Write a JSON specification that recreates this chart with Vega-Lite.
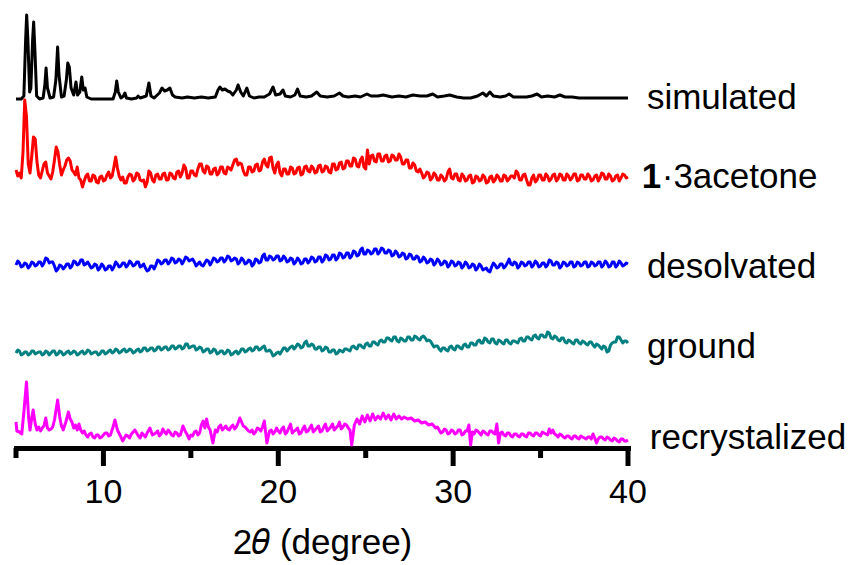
{
"$schema": "https://vega.github.io/schema/vega-lite/v6.json",
"width": 612,
"height": 438,
"autosize": {"type": "none"},
"padding": {"left": 16, "top": 10, "right": 221, "bottom": 117},
"background": "white",
"config": {"view": {"stroke": null}, "font": "Liberation Sans"},
"datasets": {
"sim": [{"x":5.0,"y":353},{"x":5.3,"y":353},{"x":5.45,"y":356},{"x":5.55,"y":412},{"x":5.61,"y":437},{"x":5.68,"y":412},{"x":5.78,"y":360},{"x":5.85,"y":364},{"x":5.95,"y":412},{"x":6.01,"y":430},{"x":6.08,"y":402},{"x":6.18,"y":356},{"x":6.35,"y":353},{"x":6.55,"y":354},{"x":6.65,"y":367},{"x":6.72,"y":384},{"x":6.8,"y":364},{"x":6.95,"y":354},{"x":7.15,"y":355},{"x":7.28,"y":372},{"x":7.38,"y":405},{"x":7.46,"y":377},{"x":7.6,"y":355},{"x":7.75,"y":356},{"x":7.88,"y":372},{"x":7.96,"y":389},{"x":8.05,"y":385},{"x":8.15,"y":364},{"x":8.3,"y":357},{"x":8.43,"y":370},{"x":8.52,"y":357},{"x":8.65,"y":360},{"x":8.76,"y":375},{"x":8.85,"y":362},{"x":8.95,"y":364},{"x":9.05,"y":355},{"x":9.3,"y":353},{"x":10.0,"y":353},{"x":10.55,"y":353},{"x":10.68,"y":360},{"x":10.76,"y":371},{"x":10.85,"y":360},{"x":11.0,"y":354},{"x":11.15,"y":356},{"x":11.23,"y":359},{"x":11.32,"y":354},{"x":11.6,"y":353},{"x":11.9,"y":354},{"x":11.98,"y":356},{"x":12.1,"y":354},{"x":12.45,"y":356},{"x":12.6,"y":369},{"x":12.72,"y":356},{"x":12.9,"y":354},{"x":13.2,"y":359},{"x":13.35,"y":364},{"x":13.5,"y":361},{"x":13.65,"y":362},{"x":13.8,"y":364},{"x":13.95,"y":357},{"x":14.1,"y":355},{"x":14.5,"y":354},{"x":14.8,"y":355},{"x":15.2,"y":354},{"x":15.6,"y":355},{"x":16.0,"y":354},{"x":16.4,"y":355},{"x":16.55,"y":362},{"x":16.66,"y":365},{"x":16.8,"y":362},{"x":16.95,"y":363},{"x":17.1,"y":361},{"x":17.25,"y":360},{"x":17.4,"y":357},{"x":17.6,"y":362},{"x":17.7,"y":367},{"x":17.85,"y":360},{"x":18.0,"y":356},{"x":18.2,"y":364},{"x":18.35,"y":356},{"x":18.6,"y":354},{"x":18.9,"y":355},{"x":19.2,"y":355},{"x":19.5,"y":358},{"x":19.7,"y":365},{"x":19.85,"y":357},{"x":20.1,"y":358},{"x":20.27,"y":362},{"x":20.4,"y":356},{"x":20.7,"y":355},{"x":20.95,"y":357},{"x":21.1,"y":363},{"x":21.25,"y":356},{"x":21.6,"y":355},{"x":21.9,"y":356},{"x":22.2,"y":360},{"x":22.4,"y":356},{"x":22.8,"y":355},{"x":23.2,"y":356},{"x":23.5,"y":359},{"x":23.7,"y":356},{"x":24.0,"y":355},{"x":24.4,"y":356},{"x":24.7,"y":355},{"x":25.07,"y":358},{"x":25.3,"y":356},{"x":25.7,"y":356},{"x":26.0,"y":357},{"x":26.5,"y":355},{"x":26.9,"y":356},{"x":27.3,"y":355},{"x":27.7,"y":357},{"x":28.1,"y":356},{"x":28.5,"y":356},{"x":28.84,"y":358},{"x":29.1,"y":355},{"x":29.5,"y":356},{"x":29.8,"y":357},{"x":30.2,"y":355},{"x":30.6,"y":354},{"x":31.0,"y":354},{"x":31.4,"y":356},{"x":31.7,"y":359},{"x":31.9,"y":356},{"x":32.1,"y":360},{"x":32.3,"y":356},{"x":32.7,"y":355},{"x":33.0,"y":356},{"x":33.2,"y":358},{"x":33.45,"y":355},{"x":33.8,"y":355},{"x":34.2,"y":355},{"x":34.5,"y":356},{"x":34.8,"y":358},{"x":35.05,"y":355},{"x":35.4,"y":356},{"x":35.8,"y":355},{"x":36.1,"y":357},{"x":36.4,"y":355},{"x":36.8,"y":355},{"x":37.2,"y":354},{"x":37.7,"y":354},{"x":38.2,"y":354},{"x":38.8,"y":354},{"x":39.4,"y":354},{"x":40.0,"y":354}],
"red": [{"x":5.0,"y":282},{"x":5.1,"y":276},{"x":5.2,"y":279},{"x":5.3,"y":274},{"x":5.4,"y":300},{"x":5.5,"y":352},{"x":5.6,"y":335},{"x":5.7,"y":288},{"x":5.8,"y":279},{"x":5.9,"y":296},{"x":6.0,"y":315},{"x":6.1,"y":313},{"x":6.2,"y":290},{"x":6.3,"y":277},{"x":6.4,"y":274},{"x":6.5,"y":281},{"x":6.6,"y":288},{"x":6.7,"y":290},{"x":6.8,"y":279},{"x":6.9,"y":276},{"x":7.0,"y":273},{"x":7.1,"y":280},{"x":7.2,"y":292},{"x":7.3,"y":305},{"x":7.4,"y":300},{"x":7.5,"y":287},{"x":7.6,"y":277},{"x":7.7,"y":282},{"x":7.8,"y":286},{"x":7.9,"y":292},{"x":8.0,"y":294},{"x":8.1,"y":291},{"x":8.2,"y":282},{"x":8.3,"y":280},{"x":8.4,"y":277},{"x":8.5,"y":285},{"x":8.6,"y":274},{"x":8.7,"y":272},{"x":8.8,"y":265},{"x":8.9,"y":271},{"x":9.0,"y":276},{"x":9.2,"y":271},{"x":9.4,"y":277},{"x":9.6,"y":270},{"x":9.8,"y":275},{"x":10.0,"y":271},{"x":10.2,"y":277},{"x":10.4,"y":274},{"x":10.6,"y":285},{"x":10.7,"y":295},{"x":10.8,"y":284},{"x":11.0,"y":272},{"x":11.2,"y":269},{"x":11.4,"y":275},{"x":11.6,"y":277},{"x":11.8,"y":273},{"x":12.0,"y":278},{"x":12.2,"y":271},{"x":12.4,"y":265},{"x":12.6,"y":281},{"x":12.8,"y":272},{"x":13.0,"y":277},{"x":13.2,"y":273},{"x":13.4,"y":278},{"x":13.6,"y":272},{"x":13.8,"y":279},{"x":14.0,"y":274},{"x":14.2,"y":280},{"x":14.4,"y":275},{"x":14.6,"y":287},{"x":14.8,"y":274},{"x":15.0,"y":281},{"x":15.2,"y":277},{"x":15.4,"y":283},{"x":15.6,"y":288},{"x":15.8,"y":279},{"x":16.0,"y":285},{"x":16.2,"y":278},{"x":16.4,"y":284},{"x":16.6,"y":279},{"x":16.8,"y":285},{"x":17.0,"y":278},{"x":17.2,"y":284},{"x":17.4,"y":287},{"x":17.6,"y":293},{"x":17.8,"y":289},{"x":18.0,"y":281},{"x":18.2,"y":277},{"x":18.4,"y":285},{"x":18.6,"y":281},{"x":18.8,"y":288},{"x":19.0,"y":282},{"x":19.2,"y":293},{"x":19.4,"y":285},{"x":19.6,"y":295},{"x":19.8,"y":279},{"x":20.0,"y":290},{"x":20.2,"y":276},{"x":20.4,"y":283},{"x":20.6,"y":278},{"x":20.8,"y":284},{"x":21.0,"y":279},{"x":21.2,"y":285},{"x":21.4,"y":278},{"x":21.6,"y":286},{"x":21.8,"y":280},{"x":22.0,"y":284},{"x":22.2,"y":280},{"x":22.4,"y":287},{"x":22.6,"y":281},{"x":22.8,"y":285},{"x":23.0,"y":279},{"x":23.2,"y":288},{"x":23.4,"y":283},{"x":23.6,"y":290},{"x":23.8,"y":284},{"x":24.0,"y":291},{"x":24.2,"y":286},{"x":24.4,"y":293},{"x":24.6,"y":285},{"x":24.8,"y":295},{"x":25.0,"y":283},{"x":25.1,"y":302},{"x":25.2,"y":288},{"x":25.4,"y":297},{"x":25.6,"y":290},{"x":25.8,"y":298},{"x":26.0,"y":291},{"x":26.2,"y":297},{"x":26.4,"y":291},{"x":26.6,"y":296},{"x":26.8,"y":292},{"x":27.0,"y":295},{"x":27.2,"y":288},{"x":27.4,"y":292},{"x":27.6,"y":284},{"x":27.8,"y":287},{"x":28.0,"y":280},{"x":28.2,"y":279},{"x":28.4,"y":276},{"x":28.6,"y":279},{"x":28.8,"y":274},{"x":29.0,"y":277},{"x":29.2,"y":272},{"x":29.4,"y":275},{"x":29.6,"y":273},{"x":29.8,"y":283},{"x":30.0,"y":273},{"x":30.2,"y":278},{"x":30.4,"y":271},{"x":30.6,"y":276},{"x":30.8,"y":272},{"x":31.0,"y":277},{"x":31.2,"y":270},{"x":31.4,"y":275},{"x":31.6,"y":272},{"x":31.8,"y":275},{"x":32.0,"y":270},{"x":32.2,"y":276},{"x":32.4,"y":272},{"x":32.6,"y":275},{"x":32.8,"y":271},{"x":33.0,"y":276},{"x":33.2,"y":273},{"x":33.4,"y":276},{"x":33.6,"y":281},{"x":33.8,"y":272},{"x":34.0,"y":277},{"x":34.2,"y":272},{"x":34.4,"y":267},{"x":34.6,"y":277},{"x":34.8,"y":272},{"x":35.0,"y":277},{"x":35.2,"y":272},{"x":35.4,"y":276},{"x":35.6,"y":273},{"x":35.8,"y":278},{"x":36.0,"y":273},{"x":36.2,"y":277},{"x":36.4,"y":272},{"x":36.6,"y":276},{"x":36.8,"y":274},{"x":37.0,"y":278},{"x":37.2,"y":272},{"x":37.4,"y":277},{"x":37.6,"y":273},{"x":37.8,"y":276},{"x":38.0,"y":272},{"x":38.2,"y":277},{"x":38.4,"y":274},{"x":38.6,"y":278},{"x":38.8,"y":273},{"x":39.0,"y":276},{"x":39.2,"y":272},{"x":39.4,"y":277},{"x":39.6,"y":274},{"x":39.8,"y":277},{"x":40.0,"y":275},
{"x":9.1,"y":278},{"x":9.3,"y":271},{"x":9.5,"y":276},{"x":9.7,"y":269},{"x":9.9,"y":276},{"x":10.1,"y":272},{"x":10.3,"y":280},{"x":10.5,"y":276},{"x":10.9,"y":276},{"x":11.1,"y":275},{"x":11.3,"y":269},{"x":11.5,"y":278},{"x":11.7,"y":271},{"x":11.9,"y":279},{"x":12.1,"y":272},{"x":12.3,"y":272},{"x":12.5,"y":270},{"x":12.7,"y":279},{"x":12.9,"y":270},{"x":13.1,"y":278},{"x":13.3,"y":273},{"x":13.5,"y":279},{"x":13.7,"y":272},{"x":13.9,"y":278},{"x":14.1,"y":273},{"x":14.3,"y":281},{"x":14.5,"y":279},{"x":14.7,"y":284},{"x":14.9,"y":274},{"x":15.1,"y":281},{"x":15.3,"y":276},{"x":15.5,"y":288},{"x":15.7,"y":281},{"x":15.9,"y":286},{"x":16.1,"y":278},{"x":16.3,"y":283},{"x":16.5,"y":277},{"x":16.7,"y":285},{"x":16.9,"y":279},{"x":17.1,"y":285},{"x":17.3,"y":282},{"x":17.5,"y":292},{"x":17.7,"y":287},{"x":17.9,"y":288},{"x":18.1,"y":277},{"x":18.3,"y":285},{"x":18.5,"y":280},{"x":18.7,"y":287},{"x":18.9,"y":281},{"x":19.1,"y":290},{"x":19.3,"y":287},{"x":19.5,"y":294},{"x":19.7,"y":284},{"x":19.9,"y":287},{"x":20.1,"y":279},{"x":20.3,"y":283},{"x":20.5,"y":278},{"x":20.7,"y":285},{"x":20.9,"y":278},{"x":21.1,"y":284},{"x":21.3,"y":277},{"x":21.5,"y":285},{"x":21.7,"y":281},{"x":21.9,"y":286},{"x":22.1,"y":279},{"x":22.3,"y":286},{"x":22.5,"y":280},{"x":22.7,"y":286},{"x":22.9,"y":280},{"x":23.1,"y":288},{"x":23.3,"y":282},{"x":23.5,"y":289},{"x":23.7,"y":283},{"x":23.9,"y":291},{"x":24.1,"y":286},{"x":24.3,"y":294},{"x":24.5,"y":286},{"x":24.7,"y":292},{"x":24.9,"y":285},{"x":25.3,"y":296},{"x":25.5,"y":291},{"x":25.7,"y":298},{"x":25.9,"y":291},{"x":26.1,"y":296},{"x":26.3,"y":290},{"x":26.5,"y":297},{"x":26.7,"y":292},{"x":26.9,"y":298},{"x":27.1,"y":288},{"x":27.3,"y":292},{"x":27.5,"y":284},{"x":27.7,"y":289},{"x":27.9,"y":281},{"x":28.1,"y":283},{"x":28.3,"y":274},{"x":28.5,"y":280},{"x":28.7,"y":272},{"x":28.9,"y":279},{"x":29.1,"y":272},{"x":29.3,"y":277},{"x":29.5,"y":271},{"x":29.7,"y":280},{"x":29.9,"y":274},{"x":30.1,"y":278},{"x":30.3,"y":272},{"x":30.5,"y":278},{"x":30.7,"y":271},{"x":30.9,"y":276},{"x":31.1,"y":269},{"x":31.3,"y":276},{"x":31.5,"y":271},{"x":31.7,"y":277},{"x":31.9,"y":269},{"x":32.1,"y":275},{"x":32.3,"y":270},{"x":32.5,"y":277},{"x":32.7,"y":271},{"x":32.9,"y":277},{"x":33.1,"y":271},{"x":33.3,"y":276},{"x":33.5,"y":274},{"x":33.7,"y":279},{"x":33.9,"y":272},{"x":34.1,"y":278},{"x":34.3,"y":267},{"x":34.5,"y":274},{"x":34.7,"y":270},{"x":34.9,"y":277},{"x":35.1,"y":272},{"x":35.3,"y":278},{"x":35.5,"y":271},{"x":35.7,"y":277},{"x":35.9,"y":271},{"x":36.1,"y":278},{"x":36.3,"y":272},{"x":36.5,"y":278},{"x":36.7,"y":272},{"x":36.9,"y":278},{"x":37.1,"y":271},{"x":37.3,"y":277},{"x":37.5,"y":273},{"x":37.7,"y":278},{"x":37.9,"y":271},{"x":38.1,"y":276},{"x":38.3,"y":271},{"x":38.5,"y":279},{"x":38.7,"y":273},{"x":38.9,"y":278},{"x":39.1,"y":271},{"x":39.3,"y":276},{"x":39.5,"y":271},{"x":39.7,"y":278},{"x":39.9,"y":274}],
"blue": [{"x":5.0,"y":187},{"x":5.2,"y":189},{"x":5.4,"y":186},{"x":5.6,"y":188},{"x":5.8,"y":186},{"x":6.0,"y":189},{"x":6.2,"y":187},{"x":6.4,"y":190},{"x":6.6,"y":189},{"x":6.8,"y":193},{"x":7.0,"y":190},{"x":7.2,"y":186},{"x":7.4,"y":183},{"x":7.6,"y":186},{"x":7.8,"y":185},{"x":8.0,"y":188},{"x":8.2,"y":186},{"x":8.4,"y":190},{"x":8.6,"y":188},{"x":8.8,"y":192},{"x":9.0,"y":188},{"x":9.2,"y":187},{"x":9.4,"y":185},{"x":9.6,"y":187},{"x":9.8,"y":184},{"x":10.0,"y":186},{"x":10.2,"y":183},{"x":10.4,"y":186},{"x":10.6,"y":185},{"x":10.8,"y":188},{"x":11.0,"y":186},{"x":11.2,"y":189},{"x":11.4,"y":187},{"x":11.6,"y":189},{"x":11.8,"y":187},{"x":12.0,"y":190},{"x":12.2,"y":186},{"x":12.4,"y":184},{"x":12.6,"y":182},{"x":12.8,"y":186},{"x":13.0,"y":187},{"x":13.2,"y":191},{"x":13.4,"y":189},{"x":13.6,"y":192},{"x":13.8,"y":190},{"x":14.0,"y":193},{"x":14.2,"y":190},{"x":14.4,"y":192},{"x":14.6,"y":191},{"x":14.8,"y":194},{"x":15.0,"y":192},{"x":15.2,"y":190},{"x":15.4,"y":188},{"x":15.6,"y":187},{"x":15.8,"y":189},{"x":16.0,"y":191},{"x":16.2,"y":190},{"x":16.4,"y":193},{"x":16.6,"y":191},{"x":16.8,"y":194},{"x":17.0,"y":192},{"x":17.2,"y":195},{"x":17.4,"y":192},{"x":17.6,"y":193},{"x":17.8,"y":190},{"x":18.0,"y":192},{"x":18.2,"y":189},{"x":18.4,"y":191},{"x":18.6,"y":188},{"x":18.8,"y":192},{"x":19.0,"y":190},{"x":19.2,"y":198},{"x":19.4,"y":192},{"x":19.6,"y":195},{"x":19.8,"y":193},{"x":20.0,"y":196},{"x":20.2,"y":192},{"x":20.4,"y":194},{"x":20.6,"y":191},{"x":20.8,"y":193},{"x":21.0,"y":190},{"x":21.2,"y":192},{"x":21.4,"y":189},{"x":21.6,"y":193},{"x":21.8,"y":191},{"x":22.0,"y":194},{"x":22.2,"y":191},{"x":22.4,"y":195},{"x":22.6,"y":192},{"x":22.8,"y":196},{"x":23.0,"y":193},{"x":23.2,"y":197},{"x":23.4,"y":194},{"x":23.6,"y":198},{"x":23.8,"y":195},{"x":24.0,"y":199},{"x":24.2,"y":196},{"x":24.4,"y":200},{"x":24.6,"y":197},{"x":24.8,"y":204},{"x":25.0,"y":198},{"x":25.2,"y":201},{"x":25.4,"y":199},{"x":25.6,"y":203},{"x":25.8,"y":200},{"x":26.0,"y":203},{"x":26.2,"y":199},{"x":26.4,"y":201},{"x":26.6,"y":197},{"x":26.8,"y":199},{"x":27.0,"y":196},{"x":27.2,"y":198},{"x":27.4,"y":194},{"x":27.6,"y":197},{"x":27.8,"y":193},{"x":28.0,"y":195},{"x":28.2,"y":191},{"x":28.4,"y":193},{"x":28.6,"y":190},{"x":28.8,"y":192},{"x":29.0,"y":189},{"x":29.2,"y":191},{"x":29.4,"y":188},{"x":29.6,"y":190},{"x":29.8,"y":187},{"x":30.0,"y":190},{"x":30.2,"y":187},{"x":30.4,"y":189},{"x":30.6,"y":186},{"x":30.8,"y":188},{"x":31.0,"y":185},{"x":31.2,"y":187},{"x":31.4,"y":184},{"x":31.6,"y":186},{"x":31.8,"y":183},{"x":32.0,"y":181},{"x":32.2,"y":185},{"x":32.4,"y":187},{"x":32.6,"y":185},{"x":32.8,"y":188},{"x":33.0,"y":186},{"x":33.2,"y":193},{"x":33.4,"y":187},{"x":33.6,"y":189},{"x":33.8,"y":186},{"x":34.0,"y":189},{"x":34.2,"y":187},{"x":34.4,"y":190},{"x":34.6,"y":187},{"x":34.8,"y":189},{"x":35.0,"y":186},{"x":35.2,"y":189},{"x":35.4,"y":187},{"x":35.6,"y":191},{"x":35.8,"y":187},{"x":36.0,"y":189},{"x":36.2,"y":186},{"x":36.4,"y":189},{"x":36.6,"y":187},{"x":36.8,"y":190},{"x":37.0,"y":186},{"x":37.2,"y":189},{"x":37.4,"y":187},{"x":37.6,"y":190},{"x":37.8,"y":186},{"x":38.0,"y":189},{"x":38.2,"y":187},{"x":38.4,"y":190},{"x":38.6,"y":187},{"x":38.8,"y":189},{"x":39.0,"y":186},{"x":39.2,"y":190},{"x":39.4,"y":187},{"x":39.6,"y":189},{"x":39.8,"y":187},{"x":40.0,"y":188},
{"x":5.1,"y":191},{"x":5.3,"y":185},{"x":5.5,"y":189},{"x":5.7,"y":184},{"x":5.9,"y":190},{"x":6.1,"y":186},{"x":6.3,"y":190},{"x":6.5,"y":186},{"x":6.7,"y":194},{"x":6.9,"y":189},{"x":7.1,"y":190},{"x":7.3,"y":181},{"x":7.5,"y":187},{"x":7.7,"y":183},{"x":7.9,"y":188},{"x":8.1,"y":184},{"x":8.3,"y":191},{"x":8.5,"y":187},{"x":8.7,"y":192},{"x":8.9,"y":187},{"x":9.1,"y":190},{"x":9.3,"y":184},{"x":9.5,"y":188},{"x":9.7,"y":182},{"x":9.9,"y":188},{"x":10.1,"y":182},{"x":10.3,"y":186},{"x":10.5,"y":182},{"x":10.7,"y":190},{"x":10.9,"y":185},{"x":11.1,"y":189},{"x":11.3,"y":185},{"x":11.5,"y":191},{"x":11.7,"y":186},{"x":11.9,"y":190},{"x":12.1,"y":185},{"x":12.3,"y":188},{"x":12.5,"y":181},{"x":12.7,"y":186},{"x":12.9,"y":183},{"x":13.1,"y":192},{"x":13.3,"y":188},{"x":13.5,"y":192},{"x":13.7,"y":188},{"x":13.9,"y":194},{"x":14.1,"y":189},{"x":14.3,"y":193},{"x":14.5,"y":188},{"x":14.7,"y":195},{"x":14.9,"y":191},{"x":15.1,"y":193},{"x":15.3,"y":186},{"x":15.5,"y":190},{"x":15.7,"y":186},{"x":15.9,"y":192},{"x":16.1,"y":187},{"x":16.3,"y":194},{"x":16.5,"y":190},{"x":16.7,"y":194},{"x":16.9,"y":190},{"x":17.1,"y":196},{"x":17.3,"y":191},{"x":17.5,"y":194},{"x":17.7,"y":188},{"x":17.9,"y":194},{"x":18.1,"y":188},{"x":18.3,"y":192},{"x":18.5,"y":186},{"x":18.7,"y":193},{"x":18.9,"y":189},{"x":19.1,"y":196},{"x":19.3,"y":192},{"x":19.5,"y":196},{"x":19.7,"y":192},{"x":19.9,"y":196},{"x":20.1,"y":191},{"x":20.3,"y":196},{"x":20.5,"y":190},{"x":20.7,"y":194},{"x":20.9,"y":188},{"x":21.1,"y":194},{"x":21.3,"y":188},{"x":21.5,"y":193},{"x":21.7,"y":189},{"x":21.9,"y":195},{"x":22.1,"y":190},{"x":22.3,"y":195},{"x":22.5,"y":190},{"x":22.7,"y":197},{"x":22.9,"y":192},{"x":23.1,"y":197},{"x":23.3,"y":192},{"x":23.5,"y":199},{"x":23.7,"y":194},{"x":23.9,"y":199},{"x":24.1,"y":194},{"x":24.3,"y":201},{"x":24.5,"y":196},{"x":24.7,"y":202},{"x":24.9,"y":198},{"x":25.1,"y":202},{"x":25.3,"y":198},{"x":25.5,"y":203},{"x":25.7,"y":198},{"x":25.9,"y":204},{"x":26.1,"y":199},{"x":26.3,"y":202},{"x":26.5,"y":196},{"x":26.7,"y":201},{"x":26.9,"y":195},{"x":27.1,"y":199},{"x":27.3,"y":193},{"x":27.5,"y":198},{"x":27.7,"y":193},{"x":27.9,"y":196},{"x":28.1,"y":190},{"x":28.3,"y":195},{"x":28.5,"y":189},{"x":28.7,"y":193},{"x":28.9,"y":187},{"x":29.1,"y":193},{"x":29.3,"y":187},{"x":29.5,"y":191},{"x":29.7,"y":185},{"x":29.9,"y":191},{"x":30.1,"y":186},{"x":30.3,"y":190},{"x":30.5,"y":184},{"x":30.7,"y":190},{"x":30.9,"y":184},{"x":31.1,"y":188},{"x":31.3,"y":182},{"x":31.5,"y":188},{"x":31.7,"y":182},{"x":31.9,"y":184},{"x":32.1,"y":180},{"x":32.3,"y":189},{"x":32.5,"y":184},{"x":32.7,"y":188},{"x":32.9,"y":184},{"x":33.1,"y":189},{"x":33.3,"y":188},{"x":33.5,"y":190},{"x":33.7,"y":184},{"x":33.9,"y":190},{"x":34.1,"y":186},{"x":34.3,"y":190},{"x":34.5,"y":185},{"x":34.7,"y":191},{"x":34.9,"y":185},{"x":35.1,"y":189},{"x":35.3,"y":185},{"x":35.5,"y":192},{"x":35.7,"y":187},{"x":35.9,"y":190},{"x":36.1,"y":184},{"x":36.3,"y":190},{"x":36.5,"y":186},{"x":36.7,"y":190},{"x":36.9,"y":185},{"x":37.1,"y":190},{"x":37.3,"y":186},{"x":37.5,"y":190},{"x":37.7,"y":185},{"x":37.9,"y":190},{"x":38.1,"y":186},{"x":38.3,"y":190},{"x":38.5,"y":185},{"x":38.7,"y":191},{"x":38.9,"y":185},{"x":39.1,"y":190},{"x":39.3,"y":185},{"x":39.5,"y":191},{"x":39.7,"y":186},{"x":39.9,"y":189}],
"teal": [{"x":5.0,"y":99},{"x":5.2,"y":101},{"x":5.4,"y":98},{"x":5.6,"y":100},{"x":5.8,"y":98},{"x":6.0,"y":101},{"x":6.2,"y":99},{"x":6.4,"y":100},{"x":6.6,"y":98},{"x":6.8,"y":100},{"x":7.0,"y":99},{"x":7.2,"y":101},{"x":7.4,"y":98},{"x":7.6,"y":100},{"x":7.8,"y":98},{"x":8.0,"y":101},{"x":8.2,"y":99},{"x":8.4,"y":100},{"x":8.6,"y":98},{"x":8.8,"y":101},{"x":9.0,"y":99},{"x":9.2,"y":101},{"x":9.4,"y":99},{"x":9.6,"y":100},{"x":9.8,"y":98},{"x":10.0,"y":101},{"x":10.2,"y":99},{"x":10.4,"y":102},{"x":10.6,"y":100},{"x":10.8,"y":102},{"x":11.0,"y":100},{"x":11.2,"y":103},{"x":11.4,"y":101},{"x":11.6,"y":102},{"x":11.8,"y":100},{"x":12.0,"y":103},{"x":12.2,"y":101},{"x":12.4,"y":104},{"x":12.6,"y":102},{"x":12.8,"y":104},{"x":13.0,"y":102},{"x":13.2,"y":105},{"x":13.4,"y":103},{"x":13.6,"y":105},{"x":13.8,"y":103},{"x":14.0,"y":106},{"x":14.2,"y":104},{"x":14.4,"y":106},{"x":14.6,"y":104},{"x":14.8,"y":108},{"x":15.0,"y":105},{"x":15.2,"y":106},{"x":15.4,"y":103},{"x":15.6,"y":104},{"x":15.8,"y":101},{"x":16.0,"y":103},{"x":16.2,"y":100},{"x":16.4,"y":102},{"x":16.6,"y":99},{"x":16.8,"y":101},{"x":17.0,"y":99},{"x":17.2,"y":101},{"x":17.4,"y":98},{"x":17.6,"y":101},{"x":17.8,"y":100},{"x":18.0,"y":103},{"x":18.2,"y":101},{"x":18.4,"y":104},{"x":18.6,"y":102},{"x":18.8,"y":105},{"x":19.0,"y":103},{"x":19.2,"y":106},{"x":19.4,"y":101},{"x":19.6,"y":100},{"x":19.8,"y":97},{"x":20.0,"y":100},{"x":20.2,"y":101},{"x":20.4,"y":104},{"x":20.6,"y":103},{"x":20.8,"y":106},{"x":21.0,"y":105},{"x":21.2,"y":107},{"x":21.4,"y":105},{"x":21.6,"y":111},{"x":21.8,"y":106},{"x":22.0,"y":107},{"x":22.2,"y":103},{"x":22.4,"y":105},{"x":22.6,"y":102},{"x":22.8,"y":104},{"x":23.0,"y":100},{"x":23.2,"y":102},{"x":23.4,"y":99},{"x":23.6,"y":101},{"x":23.8,"y":103},{"x":24.0,"y":102},{"x":24.2,"y":105},{"x":24.4,"y":104},{"x":24.6,"y":107},{"x":24.8,"y":105},{"x":25.0,"y":108},{"x":25.2,"y":106},{"x":25.4,"y":110},{"x":25.6,"y":108},{"x":25.8,"y":111},{"x":26.0,"y":110},{"x":26.2,"y":114},{"x":26.4,"y":112},{"x":26.6,"y":115},{"x":26.8,"y":111},{"x":27.0,"y":114},{"x":27.2,"y":111},{"x":27.4,"y":115},{"x":27.6,"y":112},{"x":27.8,"y":116},{"x":28.0,"y":113},{"x":28.2,"y":115},{"x":28.4,"y":114},{"x":28.6,"y":112},{"x":28.8,"y":108},{"x":29.0,"y":106},{"x":29.2,"y":103},{"x":29.4,"y":104},{"x":29.6,"y":102},{"x":29.8,"y":105},{"x":30.0,"y":103},{"x":30.2,"y":106},{"x":30.4,"y":104},{"x":30.6,"y":107},{"x":30.8,"y":105},{"x":31.0,"y":109},{"x":31.2,"y":107},{"x":31.4,"y":111},{"x":31.6,"y":109},{"x":31.8,"y":114},{"x":32.0,"y":110},{"x":32.2,"y":113},{"x":32.4,"y":109},{"x":32.6,"y":112},{"x":32.8,"y":109},{"x":33.0,"y":112},{"x":33.2,"y":109},{"x":33.4,"y":111},{"x":33.6,"y":110},{"x":33.8,"y":113},{"x":34.0,"y":111},{"x":34.2,"y":115},{"x":34.4,"y":113},{"x":34.6,"y":116},{"x":34.8,"y":114},{"x":35.0,"y":117},{"x":35.2,"y":115},{"x":35.4,"y":120},{"x":35.6,"y":114},{"x":35.8,"y":116},{"x":36.0,"y":112},{"x":36.2,"y":114},{"x":36.4,"y":110},{"x":36.6,"y":112},{"x":36.8,"y":109},{"x":37.0,"y":112},{"x":37.2,"y":109},{"x":37.4,"y":111},{"x":37.6,"y":108},{"x":37.8,"y":110},{"x":38.0,"y":107},{"x":38.2,"y":108},{"x":38.4,"y":105},{"x":38.6,"y":106},{"x":38.8,"y":100},{"x":39.0,"y":107},{"x":39.2,"y":110},{"x":39.4,"y":115},{"x":39.6,"y":112},{"x":39.8,"y":111},{"x":40.0,"y":109},
{"x":5.1,"y":102},{"x":5.3,"y":97},{"x":5.5,"y":100},{"x":5.7,"y":97},{"x":5.9,"y":101},{"x":6.1,"y":98},{"x":6.3,"y":100},{"x":6.5,"y":97},{"x":6.7,"y":101},{"x":6.9,"y":97},{"x":7.1,"y":101},{"x":7.3,"y":97},{"x":7.5,"y":101},{"x":7.7,"y":97},{"x":7.9,"y":100},{"x":8.1,"y":98},{"x":8.3,"y":101},{"x":8.5,"y":97},{"x":8.7,"y":100},{"x":8.9,"y":98},{"x":9.1,"y":102},{"x":9.3,"y":98},{"x":9.5,"y":100},{"x":9.7,"y":97},{"x":9.9,"y":101},{"x":10.1,"y":98},{"x":10.3,"y":101},{"x":10.5,"y":99},{"x":10.7,"y":103},{"x":10.9,"y":99},{"x":11.1,"y":102},{"x":11.3,"y":100},{"x":11.5,"y":103},{"x":11.7,"y":99},{"x":11.9,"y":102},{"x":12.1,"y":100},{"x":12.3,"y":104},{"x":12.5,"y":101},{"x":12.7,"y":104},{"x":12.9,"y":101},{"x":13.1,"y":105},{"x":13.3,"y":102},{"x":13.5,"y":105},{"x":13.7,"y":102},{"x":13.9,"y":106},{"x":14.1,"y":103},{"x":14.3,"y":106},{"x":14.5,"y":103},{"x":14.7,"y":108},{"x":14.9,"y":104},{"x":15.1,"y":106},{"x":15.3,"y":102},{"x":15.5,"y":105},{"x":15.7,"y":100},{"x":15.9,"y":103},{"x":16.1,"y":99},{"x":16.3,"y":103},{"x":16.5,"y":98},{"x":16.7,"y":101},{"x":16.9,"y":98},{"x":17.1,"y":102},{"x":17.3,"y":97},{"x":17.5,"y":100},{"x":17.7,"y":98},{"x":17.9,"y":103},{"x":18.1,"y":100},{"x":18.3,"y":103},{"x":18.5,"y":101},{"x":18.7,"y":105},{"x":18.9,"y":102},{"x":19.1,"y":105},{"x":19.3,"y":101},{"x":19.5,"y":102},{"x":19.7,"y":96},{"x":19.9,"y":99},{"x":20.1,"y":98},{"x":20.3,"y":104},{"x":20.5,"y":101},{"x":20.7,"y":105},{"x":20.9,"y":103},{"x":21.1,"y":108},{"x":21.3,"y":104},{"x":21.5,"y":109},{"x":21.7,"y":106},{"x":21.9,"y":108},{"x":22.1,"y":103},{"x":22.3,"y":105},{"x":22.5,"y":101},{"x":22.7,"y":105},{"x":22.9,"y":100},{"x":23.1,"y":102},{"x":23.3,"y":98},{"x":23.5,"y":102},{"x":23.7,"y":100},{"x":23.9,"y":103},{"x":24.1,"y":101},{"x":24.3,"y":106},{"x":24.5,"y":103},{"x":24.7,"y":107},{"x":24.9,"y":104},{"x":25.1,"y":109},{"x":25.3,"y":106},{"x":25.5,"y":110},{"x":25.7,"y":107},{"x":25.9,"y":112},{"x":26.1,"y":110},{"x":26.3,"y":114},{"x":26.5,"y":111},{"x":26.7,"y":115},{"x":26.9,"y":110},{"x":27.1,"y":113},{"x":27.3,"y":111},{"x":27.5,"y":115},{"x":27.7,"y":112},{"x":27.9,"y":115},{"x":28.1,"y":112},{"x":28.3,"y":116},{"x":28.5,"y":111},{"x":28.7,"y":111},{"x":28.9,"y":105},{"x":29.1,"y":106},{"x":29.3,"y":101},{"x":29.5,"y":104},{"x":29.7,"y":101},{"x":29.9,"y":106},{"x":30.1,"y":102},{"x":30.3,"y":106},{"x":30.5,"y":103},{"x":30.7,"y":108},{"x":30.9,"y":105},{"x":31.1,"y":109},{"x":31.3,"y":107},{"x":31.5,"y":112},{"x":31.7,"y":109},{"x":31.9,"y":113},{"x":32.1,"y":109},{"x":32.3,"y":113},{"x":32.5,"y":108},{"x":32.7,"y":111},{"x":32.9,"y":108},{"x":33.1,"y":112},{"x":33.3,"y":108},{"x":33.5,"y":111},{"x":33.7,"y":109},{"x":33.9,"y":114},{"x":34.1,"y":111},{"x":34.3,"y":115},{"x":34.5,"y":112},{"x":34.7,"y":117},{"x":34.9,"y":113},{"x":35.1,"y":117},{"x":35.3,"y":115},{"x":35.5,"y":119},{"x":35.7,"y":113},{"x":35.9,"y":115},{"x":36.1,"y":111},{"x":36.3,"y":114},{"x":36.5,"y":109},{"x":36.7,"y":111},{"x":36.9,"y":108},{"x":37.1,"y":112},{"x":37.3,"y":108},{"x":37.5,"y":110},{"x":37.7,"y":107},{"x":37.9,"y":110},{"x":38.1,"y":105},{"x":38.3,"y":107},{"x":38.5,"y":103},{"x":38.7,"y":105},{"x":38.9,"y":101},{"x":39.1,"y":109},{"x":39.3,"y":110},{"x":39.5,"y":115},{"x":39.7,"y":109},{"x":39.9,"y":111}],
"mag": [{"x":5.0,"y":30},{"x":5.05,"y":21},{"x":5.2,"y":20},{"x":5.33,"y":18},{"x":5.45,"y":40},{"x":5.6,"y":70},{"x":5.72,"y":35},{"x":5.8,"y":22},{"x":5.9,"y":34},{"x":5.98,"y":42},{"x":6.1,"y":28},{"x":6.2,"y":22},{"x":6.3,"y":25},{"x":6.4,"y":21},{"x":6.5,"y":24},{"x":6.6,"y":26},{"x":6.7,"y":34},{"x":6.8,"y":24},{"x":6.9,"y":22},{"x":7.0,"y":23},{"x":7.1,"y":25},{"x":7.2,"y":32},{"x":7.38,"y":52},{"x":7.5,"y":35},{"x":7.6,"y":26},{"x":7.7,"y":22},{"x":7.85,"y":30},{"x":8.0,"y":40},{"x":8.1,"y":33},{"x":8.2,"y":30},{"x":8.3,"y":24},{"x":8.4,"y":27},{"x":8.5,"y":22},{"x":8.6,"y":28},{"x":8.7,"y":22},{"x":8.8,"y":19},{"x":8.9,"y":21},{"x":9.0,"y":17},{"x":9.2,"y":18},{"x":9.4,"y":15},{"x":9.6,"y":17},{"x":9.8,"y":14},{"x":10.0,"y":17},{"x":10.2,"y":19},{"x":10.4,"y":17},{"x":10.55,"y":25},{"x":10.66,"y":32},{"x":10.8,"y":22},{"x":11.0,"y":15},{"x":11.1,"y":11},{"x":11.2,"y":14},{"x":11.4,"y":16},{"x":11.6,"y":18},{"x":11.8,"y":22},{"x":12.0,"y":16},{"x":12.1,"y":14},{"x":12.3,"y":17},{"x":12.5,"y":19},{"x":12.66,"y":24},{"x":12.8,"y":17},{"x":13.0,"y":19},{"x":13.2,"y":16},{"x":13.4,"y":23},{"x":13.6,"y":18},{"x":13.8,"y":20},{"x":14.0,"y":16},{"x":14.2,"y":19},{"x":14.4,"y":17},{"x":14.55,"y":26},{"x":14.7,"y":20},{"x":14.9,"y":13},{"x":15.0,"y":17},{"x":15.2,"y":20},{"x":15.4,"y":17},{"x":15.6,"y":27},{"x":15.7,"y":31},{"x":15.8,"y":24},{"x":15.9,"y":33},{"x":16.0,"y":25},{"x":16.1,"y":22},{"x":16.26,"y":9},{"x":16.4,"y":22},{"x":16.6,"y":25},{"x":16.8,"y":22},{"x":17.0,"y":26},{"x":17.2,"y":22},{"x":17.4,"y":27},{"x":17.6,"y":25},{"x":17.8,"y":34},{"x":18.0,"y":26},{"x":18.2,"y":23},{"x":18.4,"y":20},{"x":18.6,"y":18},{"x":18.8,"y":24},{"x":19.0,"y":21},{"x":19.2,"y":31},{"x":19.35,"y":9},{"x":19.5,"y":21},{"x":19.7,"y":18},{"x":19.9,"y":24},{"x":20.1,"y":19},{"x":20.3,"y":25},{"x":20.5,"y":20},{"x":20.7,"y":28},{"x":20.9,"y":21},{"x":21.1,"y":24},{"x":21.3,"y":19},{"x":21.5,"y":26},{"x":21.7,"y":21},{"x":21.9,"y":27},{"x":22.1,"y":22},{"x":22.3,"y":26},{"x":22.5,"y":21},{"x":22.7,"y":28},{"x":22.9,"y":23},{"x":23.1,"y":28},{"x":23.3,"y":24},{"x":23.5,"y":30},{"x":23.7,"y":25},{"x":23.9,"y":27},{"x":24.1,"y":22},{"x":24.2,"y":7},{"x":24.35,"y":27},{"x":24.5,"y":33},{"x":24.65,"y":28},{"x":24.8,"y":36},{"x":24.95,"y":30},{"x":25.1,"y":37},{"x":25.25,"y":31},{"x":25.4,"y":38},{"x":25.55,"y":32},{"x":25.7,"y":36},{"x":25.85,"y":33},{"x":26.0,"y":39},{"x":26.15,"y":33},{"x":26.3,"y":37},{"x":26.45,"y":32},{"x":26.6,"y":38},{"x":26.75,"y":33},{"x":26.9,"y":36},{"x":27.05,"y":33},{"x":27.2,"y":35},{"x":27.4,"y":33},{"x":27.6,"y":34},{"x":27.8,"y":31},{"x":28.0,"y":32},{"x":28.2,"y":29},{"x":28.4,"y":30},{"x":28.6,"y":27},{"x":28.8,"y":28},{"x":29.0,"y":24},{"x":29.2,"y":22},{"x":29.4,"y":20},{"x":29.6,"y":22},{"x":29.8,"y":19},{"x":30.0,"y":21},{"x":30.2,"y":19},{"x":30.4,"y":22},{"x":30.6,"y":18},{"x":30.8,"y":21},{"x":30.9,"y":27},{"x":31.0,"y":7},{"x":31.1,"y":20},{"x":31.3,"y":22},{"x":31.5,"y":19},{"x":31.7,"y":21},{"x":31.9,"y":18},{"x":32.1,"y":21},{"x":32.3,"y":19},{"x":32.5,"y":28},{"x":32.6,"y":9},{"x":32.7,"y":19},{"x":32.9,"y":17},{"x":33.1,"y":19},{"x":33.3,"y":16},{"x":33.5,"y":18},{"x":33.7,"y":16},{"x":33.9,"y":18},{"x":34.1,"y":16},{"x":34.3,"y":19},{"x":34.5,"y":17},{"x":34.7,"y":19},{"x":34.9,"y":17},{"x":35.1,"y":20},{"x":35.3,"y":18},{"x":35.5,"y":23},{"x":35.6,"y":19},{"x":35.7,"y":22},{"x":35.9,"y":17},{"x":36.1,"y":18},{"x":36.3,"y":15},{"x":36.5,"y":16},{"x":36.7,"y":14},{"x":36.9,"y":16},{"x":37.1,"y":14},{"x":37.3,"y":16},{"x":37.5,"y":14},{"x":37.7,"y":15},{"x":37.9,"y":13},{"x":38.0,"y":18},{"x":38.2,"y":9},{"x":38.4,"y":15},{"x":38.6,"y":13},{"x":38.8,"y":15},{"x":39.0,"y":12},{"x":39.2,"y":14},{"x":39.4,"y":11},{"x":39.6,"y":13},{"x":39.8,"y":11},{"x":40.0,"y":12},
{"x":9.1,"y":15},{"x":9.3,"y":19},{"x":9.5,"y":14},{"x":9.7,"y":17},{"x":9.9,"y":15},{"x":10.1,"y":19},{"x":10.3,"y":16},{"x":11.3,"y":17},{"x":11.5,"y":14},{"x":11.7,"y":20},{"x":11.9,"y":19},{"x":12.2,"y":19},{"x":12.4,"y":15},{"x":13.1,"y":21},{"x":13.3,"y":18},{"x":13.5,"y":20},{"x":13.7,"y":22},{"x":13.9,"y":17},{"x":14.1,"y":20},{"x":14.3,"y":16},{"x":14.8,"y":17},{"x":15.1,"y":16},{"x":15.3,"y":21},{"x":15.5,"y":19},{"x":16.5,"y":20},{"x":16.7,"y":27},{"x":16.9,"y":24},{"x":17.1,"y":23},{"x":17.3,"y":25},{"x":17.5,"y":23},{"x":17.7,"y":29},{"x":17.9,"y":30},{"x":18.1,"y":25},{"x":18.3,"y":21},{"x":18.5,"y":22},{"x":18.7,"y":20},{"x":18.9,"y":23},{"x":19.1,"y":25},{"x":19.6,"y":22},{"x":19.8,"y":20},{"x":20.0,"y":21},{"x":20.2,"y":23},{"x":20.4,"y":18},{"x":20.6,"y":24},{"x":20.8,"y":19},{"x":21.0,"y":22},{"x":21.2,"y":18},{"x":21.4,"y":23},{"x":21.6,"y":20},{"x":21.8,"y":24},{"x":22.0,"y":20},{"x":22.2,"y":24},{"x":22.4,"y":20},{"x":22.6,"y":25},{"x":22.8,"y":21},{"x":23.0,"y":25},{"x":23.2,"y":22},{"x":23.4,"y":26},{"x":23.6,"y":23},{"x":23.8,"y":28},{"x":24.0,"y":24},{"x":29.1,"y":25},{"x":29.3,"y":19},{"x":29.5,"y":23},{"x":29.7,"y":18},{"x":29.9,"y":22},{"x":30.1,"y":18},{"x":30.3,"y":22},{"x":30.5,"y":17},{"x":30.7,"y":21},{"x":31.2,"y":18},{"x":31.4,"y":21},{"x":31.6,"y":17},{"x":31.8,"y":20},{"x":32.0,"y":17},{"x":32.2,"y":21},{"x":32.4,"y":18},{"x":32.8,"y":20},{"x":33.0,"y":16},{"x":33.2,"y":19},{"x":33.4,"y":15},{"x":33.6,"y":18},{"x":33.8,"y":15},{"x":34.0,"y":18},{"x":34.2,"y":15},{"x":34.4,"y":19},{"x":34.6,"y":16},{"x":34.8,"y":19},{"x":35.0,"y":16},{"x":35.2,"y":19},{"x":35.4,"y":17},{"x":35.8,"y":18},{"x":36.0,"y":15},{"x":36.2,"y":17},{"x":36.4,"y":14},{"x":36.6,"y":16},{"x":36.8,"y":13},{"x":37.0,"y":16},{"x":37.2,"y":13},{"x":37.4,"y":15},{"x":37.6,"y":13},{"x":37.8,"y":15},{"x":38.1,"y":14},{"x":38.3,"y":13},{"x":38.5,"y":15},{"x":38.7,"y":12},{"x":38.9,"y":14},{"x":39.1,"y":11},{"x":39.3,"y":13},{"x":39.5,"y":10},{"x":39.7,"y":13},{"x":39.9,"y":11}],
"labels": [{"label":"simulated","x":41.08,"y":343},{"label":"·3acetone","x":41.93,"y":264},{"label":"desolvated","x":41.08,"y":174},{"label":"ground","x":41.08,"y":94},{"label":"recrystalized","x":41.25,"y":3}],
"bold": [{"label":"1","x":40.79,"y":264}],
"majorTicks": [{"x":10,"label":"10"},{"x":20,"label":"20"},{"x":30,"label":"30"},{"x":40,"label":"40"}],
"minorTicks": [{"x":5},{"x":15},{"x":25},{"x":35}]
},
"layer": [
{"data": {"name": "sim"}, "mark": {"type": "line", "color": "#000000", "strokeWidth": 3, "strokeJoin": "round"},
 "encoding": {
  "x": {"field": "x", "type": "quantitative", "scale": {"domain": [5, 40], "nice": false, "zero": false},
   "axis": {"orient": "bottom", "title": "2𝜃 (degree)", "grid": false, "ticks": false, "labels": false,
    "domainColor": "#000000", "domainWidth": 5, "domainCap": "square",
    "titleFontSize": 35, "titleFont": "Liberation Sans", "titleFontWeight": "normal", "titleColor": "#000000", "titlePadding": 77}},
  "y": {"field": "y", "type": "quantitative", "scale": {"domain": [4, 442], "nice": false, "zero": false}, "axis": null},
  "order": {"field": "x", "type": "quantitative"}}},
{"data": {"name": "red"}, "mark": {"type": "line", "color": "#FF0000", "strokeWidth": 3, "strokeJoin": "round"},
 "encoding": {"x": {"field": "x", "type": "quantitative"}, "y": {"field": "y", "type": "quantitative"}, "order": {"field": "x", "type": "quantitative"}}},
{"data": {"name": "blue"}, "mark": {"type": "line", "color": "#0000FF", "strokeWidth": 3, "strokeJoin": "round"},
 "encoding": {"x": {"field": "x", "type": "quantitative"}, "y": {"field": "y", "type": "quantitative"}, "order": {"field": "x", "type": "quantitative"}}},
{"data": {"name": "teal"}, "mark": {"type": "line", "color": "#008080", "strokeWidth": 3, "strokeJoin": "round"},
 "encoding": {"x": {"field": "x", "type": "quantitative"}, "y": {"field": "y", "type": "quantitative"}, "order": {"field": "x", "type": "quantitative"}}},
{"data": {"name": "mag"}, "mark": {"type": "line", "color": "#FF00FF", "strokeWidth": 3, "strokeJoin": "round"},
 "encoding": {"x": {"field": "x", "type": "quantitative"}, "y": {"field": "y", "type": "quantitative"}, "order": {"field": "x", "type": "quantitative"}}},
{"data": {"name": "majorTicks"}, "mark": {"type": "rule", "color": "#000000", "strokeWidth": 5, "clip": false},
 "encoding": {"x": {"field": "x", "type": "quantitative"}, "y": {"datum": 4}, "y2": {"datum": -14}}},
{"data": {"name": "minorTicks"}, "mark": {"type": "rule", "color": "#000000", "strokeWidth": 5, "clip": false},
 "encoding": {"x": {"field": "x", "type": "quantitative"}, "y": {"datum": 4}, "y2": {"datum": -6}}},
{"data": {"name": "majorTicks"}, "mark": {"type": "text", "align": "center", "baseline": "alphabetic", "fontSize": 34, "font": "Liberation Sans", "color": "#000000"},
 "encoding": {"x": {"field": "x", "type": "quantitative"}, "y": {"datum": -51}, "text": {"field": "label"}}},
{"data": {"name": "labels"}, "mark": {"type": "text", "align": "left", "baseline": "alphabetic", "fontSize": 35, "font": "Liberation Sans", "color": "#000000"},
 "encoding": {"x": {"field": "x", "type": "quantitative"}, "y": {"field": "y", "type": "quantitative"}, "text": {"field": "label"}}},
{"data": {"name": "bold"}, "mark": {"type": "text", "align": "left", "baseline": "alphabetic", "fontSize": 35, "font": "Liberation Sans", "fontWeight": "bold", "color": "#000000"},
 "encoding": {"x": {"field": "x", "type": "quantitative"}, "y": {"field": "y", "type": "quantitative"}, "text": {"field": "label"}}}
]
}
